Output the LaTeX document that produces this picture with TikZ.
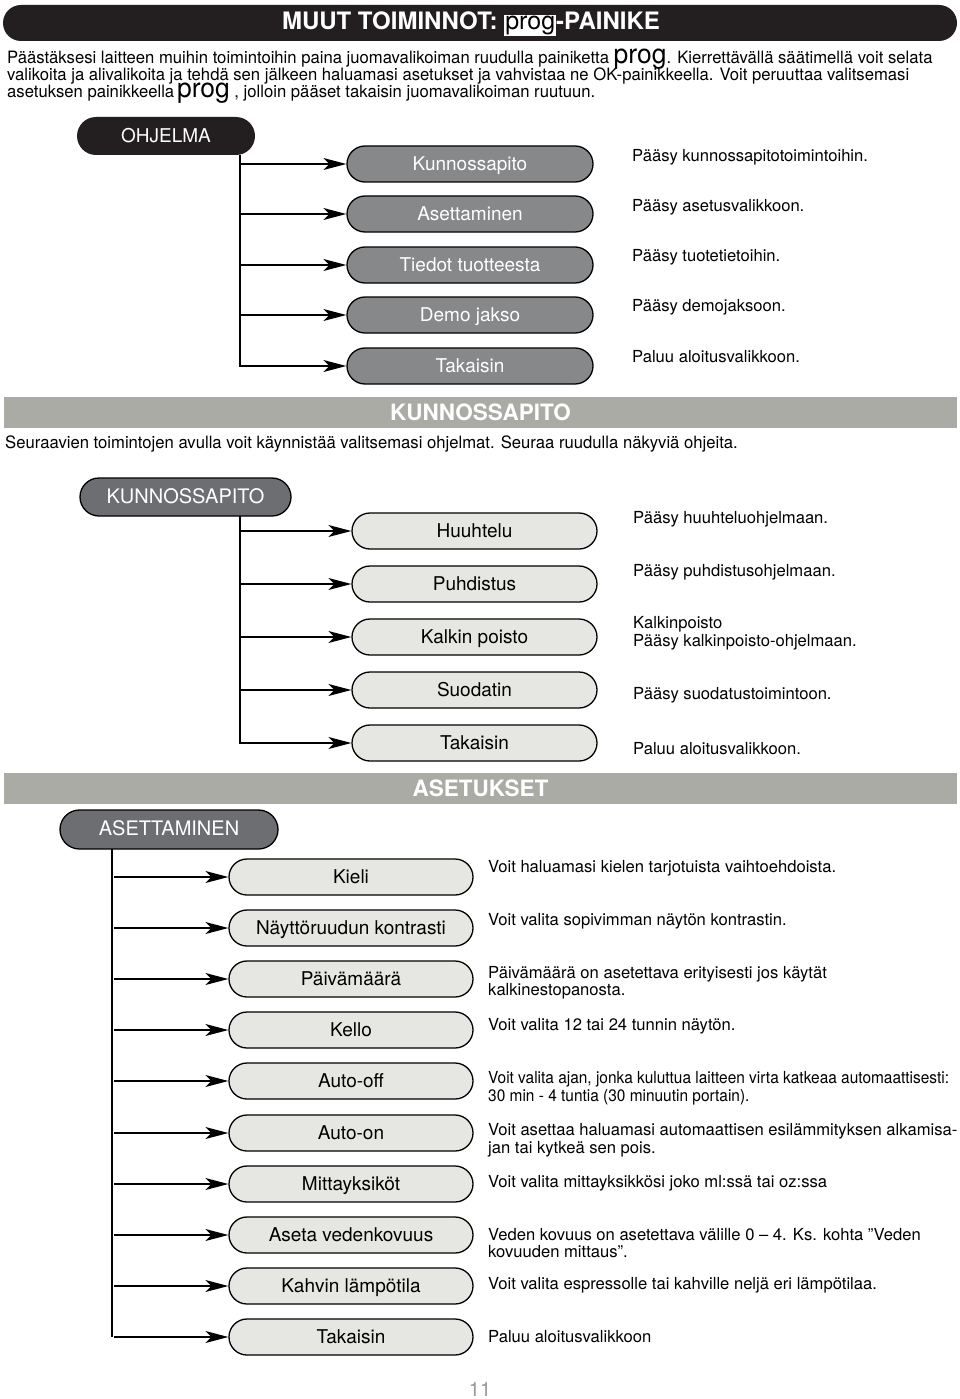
\documentclass[tikz,border=0pt]{standalone}
\usepackage{fontspec}
\setmainfont{TeX Gyre Heros}
\newfontfamily\condfont[FakeStretch=0.98]{TeX Gyre Heros}
\newfontfamily\desccond[FakeStretch=0.93]{TeX Gyre Heros}
\usetikzlibrary{arrows.meta,shapes.misc}
\definecolor{titleblack}{HTML}{231F20}
\definecolor{itemgray}{HTML}{87888A}
\definecolor{hdgray}{HTML}{6D6E71}
\definecolor{lightfill}{HTML}{E6E6E3}
\definecolor{bandgray}{HTML}{A9ABA4}
\definecolor{pagegray}{HTML}{9A9A9A}
\tikzset{
  pill/.style={rounded rectangle, draw=black, line width=1.3pt, minimum height=36pt, inner sep=0pt, text height=14.5pt, text depth=2pt},
  grayitem/.style={pill, fill=itemgray, text=white, minimum width=246pt, font=\fontsize{19}{20}\selectfont},
  lightitem/.style={pill, fill=lightfill, text=black, minimum width=245pt, font=\fontsize{19}{20}\selectfont},
  hdbox/.style={pill, fill=hdgray, text=white, minimum height=38pt, font=\fontsize{20}{22}\selectfont},
  blackhd/.style={rounded rectangle, fill=titleblack, text=white, minimum height=38pt, inner sep=0pt, text height=14.5pt, text depth=2pt, font=\fontsize{19}{21}\selectfont},
  band/.style={rectangle, fill=bandgray, text=white, minimum width=953pt, minimum height=31pt, inner sep=0pt, font=\bfseries\fontsize{22.5}{24}\selectfont},
  desc/.style={anchor=west, align=left, inner sep=0pt, font=\fontsize{16.6}{17.5}\selectfont},
  bodyline/.style={anchor=base west, inner sep=0pt, font=\condfont\fontsize{17}{17}\selectfont},
  arr/.style={line width=1.3pt, -{Stealth[length=23pt,width=12pt,inset=6pt]}},
  trunk/.style={line width=1.3pt},
}
\newcommand{\progbig}{{\fontsize{27}{27}\selectfont prog}}
\begin{document}
\begin{tikzpicture}[x=1pt,y=-1pt]
\useasboundingbox (0,0) rectangle (960,1399);
\fill[white] (0,0) rectangle (960,1399);

% title bar
\node[rounded rectangle, fill=titleblack, minimum width=954pt, minimum height=36pt, inner sep=0pt] (titlebar) at (480,23) {};
\node[text=white, inner sep=0pt, font=\bfseries\fontsize{24}{26}\selectfont] (title) at (471,24)
  {MUUT TOIMINNOT: {\setlength{\fboxsep}{1pt}\colorbox{white}{\color{black}\mdseries\fontsize{25}{25}\selectfont prog}}-PAINIKE};

% intro paragraph
\node[bodyline] (p1) at (7,63.5) {Päästäksesi laitteen muihin toimintoihin paina juomavalikoiman ruudulla painiketta \progbig. Kierrettävällä säätimellä voit selata};
\node[bodyline] (p2) at (7,80.5) {valikoita ja alivalikoita ja tehdä sen jälkeen haluamasi asetukset ja vahvistaa ne OK-painikkeella. Voit peruuttaa valitsemasi};
\node[bodyline] (p3) at (7,97.5) {asetuksen painikkeella\,\progbig\ , jolloin pääset takaisin juomavalikoiman ruutuun.};

% OHJELMA
\node[blackhd, minimum width=178pt] (ohj) at (166,136) {OHJELMA};
\node[grayitem] (o1) at (470,164) {Kunnossapito};
\node[grayitem] (o2) at (470,214) {Asettaminen};
\node[grayitem] (o3) at (470,265) {Tiedot tuotteesta};
\node[grayitem] (o4) at (470,315) {Demo jakso};
\node[grayitem] (o5) at (470,366) {Takaisin};
\coordinate (t1) at (240,155);
\draw[arr] (t1) |- (o5.west);
\foreach \i in {1,2,3,4} {\draw[arr] (t1 |- o\i.west) -- (o\i.west);}
\node[desc] (od1) at (632,157.5) {Pääsy kunnossapitotoimintoihin.};
\node[desc] (od2) at (632,207.5) {Pääsy asetusvalikkoon.};
\node[desc] (od3) at (632,257.5) {Pääsy tuotetietoihin.};
\node[desc] (od4) at (632,307.5) {Pääsy demojaksoon.};
\node[desc] (od5) at (632,356.5) {Paluu aloitusvalikkoon.};

% band KUNNOSSAPITO
\node[band] (band1) at (480.5,412.5) {KUNNOSSAPITO};
\node[bodyline] (s1) at (5,448) {Seuraavien toimintojen avulla voit käynnistää valitsemasi ohjelmat. Seuraa ruudulla näkyviä ohjeita.};

% KUNNOSSAPITO
\node[hdbox, minimum width=211pt] (kun) at (185.5,497) {KUNNOSSAPITO};
\node[lightitem] (k1) at (474.5,531) {Huuhtelu};
\node[lightitem] (k2) at (474.5,584) {Puhdistus};
\node[lightitem] (k3) at (474.5,637) {Kalkin poisto};
\node[lightitem] (k4) at (474.5,690) {Suodatin};
\node[lightitem] (k5) at (474.5,743) {Takaisin};
\coordinate (t2) at (240,516);
\draw[arr] (t2) |- (k5.west);
\foreach \i in {1,2,3,4} {\draw[arr] (t2 |- k\i.west) -- (k\i.west);}
\node[desc] (kd1) at (633,519.5) {Pääsy huuhteluohjelmaan.};
\node[desc] (kd2) at (633,572.5) {Pääsy puhdistusohjelmaan.};
\node[desc] (kd3) at (633,633.5) {Kalkinpoisto\\Pääsy kalkinpoisto-ohjelmaan.};
\node[desc] (kd4) at (633,695.5) {Pääsy suodatustoimintoon.};
\node[desc] (kd5) at (633,748.5) {Paluu aloitusvalikkoon.};

% band ASETUKSET
\node[band] (band2) at (480.5,788.5) {ASETUKSET};

% ASETTAMINEN
\node[hdbox, minimum width=218pt, minimum height=39pt] (ase) at (169,829.5) {ASETTAMINEN};
\node[lightitem, minimum width=244pt] (a1) at (351,877) {Kieli};
\node[lightitem, minimum width=244pt] (a2) at (351,928) {Näyttöruudun kontrasti};
\node[lightitem, minimum width=244pt] (a3) at (351,979) {Päivämäärä};
\node[lightitem, minimum width=244pt] (a4) at (351,1030) {Kello};
\node[lightitem, minimum width=244pt] (a5) at (351,1081) {Auto-off};
\node[lightitem, minimum width=244pt] (a6) at (351,1133) {Auto-on};
\node[lightitem, minimum width=244pt] (a7) at (351,1184) {Mittayksiköt};
\node[lightitem, minimum width=244pt] (a8) at (351,1235) {Aseta vedenkovuus};
\node[lightitem, minimum width=244pt] (a9) at (351,1286) {Kahvin lämpötila};
\node[lightitem, minimum width=244pt] (a10) at (351,1337) {Takaisin};
\coordinate (t3) at (112,849);
\draw[trunk] (t3) -- (t3 |- a10.west);
\foreach \i in {1,...,10} {\draw[arr] ([xshift=2pt]t3 |- a\i.west) -- (a\i.west);}
\node[desc] (ad1) at (488,868.5) {Voit haluamasi kielen tarjotuista vaihtoehdoista.};
\node[desc] (ad2) at (488,921.5) {Voit valita sopivimman näytön kontrastin.};
\node[desc] (ad3) at (488,982.5) {Päivämäärä on asetettava erityisesti jos käytät\\kalkinestopanosta.};
\node[desc] (ad4) at (488,1026.5) {Voit valita 12 tai 24 tunnin näytön.};
\node[desc, font=\desccond\fontsize{16.6}{17.5}\selectfont] (ad5) at (488,1088) {Voit valita ajan, jonka kuluttua laitteen virta katkeaa automaattisesti:\\30 min - 4 tuntia (30 minuutin portain).};
\node[desc] (ad6) at (488,1140) {Voit asettaa haluamasi automaattisen esilämmityksen alkamisa-\\jan tai kytkeä sen pois.};
\node[desc] (ad7) at (488,1183.5) {Voit valita mittayksikkösi joko ml:ssä tai oz:ssa};
\node[desc] (ad8) at (488,1243) {Veden kovuus on asetettava välille 0 – 4. Ks. kohta ”Veden\\kovuuden mittaus”.};
\node[desc] (ad9) at (488,1285.5) {Voit valita espressolle tai kahville neljä eri lämpötilaa.};
\node[desc] (ad10) at (488,1336.5) {Paluu aloitusvalikkoon};

% page number
\node[text=pagegray, inner sep=0pt, font=\fontsize{20}{22}\selectfont] (pg) at (480,1389) {11};
\end{tikzpicture}
\end{document}
